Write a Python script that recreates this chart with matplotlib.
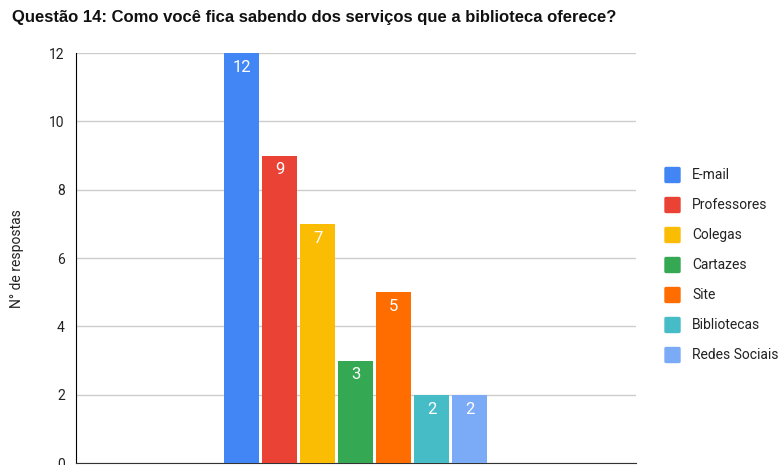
import matplotlib.pyplot as plt
from matplotlib.patches import FancyBboxPatch

categorias = ['E-mail', 'Professores', 'Colegas', 'Cartazes', 'Site', 'Bibliotecas', 'Redes Sociais']
respostas = [12, 9, 7, 3, 5, 2, 2]
cores = ['#4285F4', '#EA4335', '#FBBC04', '#34A853', '#FF6D01', '#46BDC6', '#7BAAF7']

plt.rcParams['font.family'] = ['Roboto', 'DejaVu Sans']

fig = plt.figure(figsize=(7.82, 4.65), dpi=100)
ax = fig.add_axes([0.097, 0.004, 0.716, 0.882])

x = list(range(len(categorias)))
bars = ax.bar(x, respostas, width=0.92, color=cores, zorder=3)
for b, v in zip(bars, respostas):
    ax.text(b.get_x() + b.get_width() / 2, v - 0.2, str(v), ha='center', va='top',
            color='white', fontsize=12, zorder=4)

ax.set_xlim(3 - 7.37, 3 + 7.37)
ax.set_ylim(0, 12)
ax.set_yticks(range(0, 13, 2))
ax.set_xticks([])
ax.tick_params(axis='y', length=0, labelsize=10, colors='#222222', pad=8)
ax.grid(axis='y', color='#cccccc', linewidth=1, zorder=0)
for s in ['top', 'right']:
    ax.spines[s].set_visible(False)
ax.spines['left'].set_color('black')
ax.spines['bottom'].set_color('#333333')
ax.set_ylabel('N° de respostas', fontsize=10, color='#222222', labelpad=18)

fig.text(0.015, 0.962, 'Questão 14: Como você fica sabendo dos serviços que a biblioteca oferece?',
         fontsize=12, fontweight='bold', family=['Arial', 'Liberation Sans', 'DejaVu Sans'],
         va='center', color='#111111')

# legenda manual
for i, (nome, cor) in enumerate(zip(categorias, cores)):
    yc = 1 - (175 + 30 * i) / 465
    fig.patches.append(FancyBboxPatch((665 / 782, yc - 7.5 / 465), 15 / 782, 15 / 465,
                                      boxstyle='round,pad=0,rounding_size=0.002',
                                      transform=fig.transFigure, color=cor, figure=fig))
    fig.text(692 / 782, yc, nome, fontsize=10, va='center', color='#222222')

fig.savefig('out.png', dpi=100)
